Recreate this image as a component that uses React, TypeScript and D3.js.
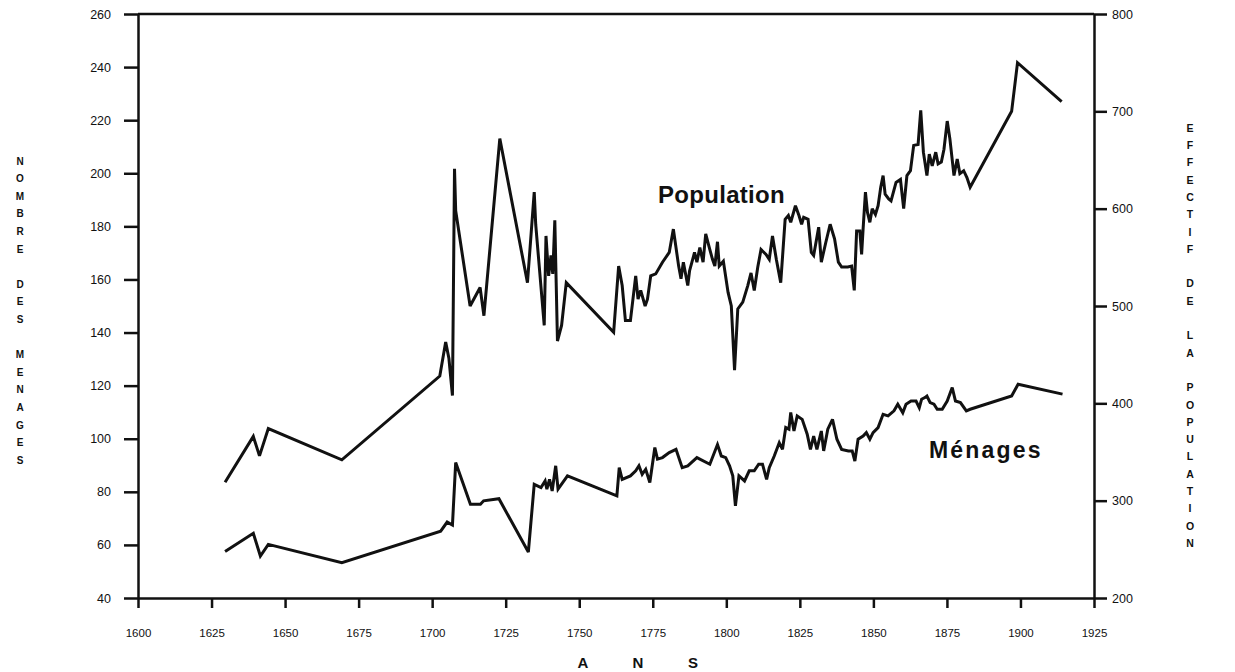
import React, { useEffect, useRef } from "react";
import * as d3 from "d3";

// population (right axis, "effectif de la population")
const popYears = [
  1629.6, 1639.2, 1641.3, 1644.3, 1669.3, 1702.6, 1704.6, 1705.7, 1706.9, 1707.6,
  1708.0, 1712.9, 1716.3, 1717.6, 1723.0, 1732.4, 1734.7, 1735.2, 1738.1, 1738.7,
  1739.6, 1740.4, 1741.0, 1741.7, 1742.6, 1744.0, 1745.6, 1761.7, 1763.4, 1764.6,
  1765.7, 1767.4, 1769.2, 1770.0, 1770.9, 1772.4, 1773.2, 1774.3, 1776.0, 1778.3,
  1780.6, 1782.0, 1783.8, 1784.6, 1785.4, 1786.9, 1787.5, 1789.2, 1790.0, 1791.0,
  1792.1, 1793.0, 1794.4, 1795.3, 1796.1, 1797.0, 1797.6, 1799.0, 1800.6, 1801.7,
  1802.8, 1803.9, 1805.6, 1807.3, 1808.4, 1809.5, 1810.7, 1811.8, 1813.5, 1814.6,
  1815.7, 1817.0, 1818.5, 1820.0, 1821.1, 1821.9, 1823.5, 1824.7, 1825.6, 1826.3,
  1827.8, 1828.9, 1829.7, 1831.4, 1832.3, 1833.8, 1835.3, 1836.8, 1838.1, 1839.2,
  1841.3, 1842.6, 1843.5, 1844.3, 1845.4, 1846.0, 1846.5, 1847.3, 1848.0, 1848.8,
  1849.6, 1850.7, 1851.6, 1852.5, 1853.3, 1854.0, 1855.2, 1856.0, 1857.7, 1859.2,
  1860.3, 1861.4, 1862.6, 1863.7, 1865.2, 1866.1, 1867.0, 1868.2, 1869.0, 1870.0,
  1871.2, 1872.0, 1873.1, 1874.0, 1875.1, 1876.0, 1877.4, 1878.5, 1879.4, 1880.7,
  1881.8, 1882.9, 1897.0, 1899.0, 1914.0,
];
const popValues = [
  319, 366, 346, 374, 342, 428, 463, 446, 408, 641,
  598, 500, 519, 490, 672, 524, 617, 584, 480, 572,
  531, 552, 533, 588, 464, 480, 524, 473, 541, 521,
  485, 485, 531, 507, 516, 500, 507, 531, 533, 545,
  555, 579, 541, 528, 545, 521, 536, 555, 545, 560,
  545, 574, 558, 548, 541, 566, 541, 546, 514, 500,
  434, 497, 504, 521, 534, 516, 540, 558, 553, 548,
  572, 548, 524, 589, 593, 586, 603, 593, 584, 591,
  589, 555, 552, 581, 545, 565, 584, 569, 545, 540,
  540, 541, 516, 577, 577, 553, 579, 617, 596, 586,
  600, 594, 603, 622, 634, 615, 610, 608, 627, 630,
  600, 634, 639, 665, 666, 701, 658, 634, 656, 644,
  658, 646, 648, 661, 690, 672, 634, 651, 636, 639,
  632, 622, 700, 750, 710,
];

// ménages (left axis, "nombre des ménages")
const menYears = [
  1629.6, 1639.2, 1641.6, 1644.3, 1669.3, 1702.9, 1705.1, 1706.9, 1708.0, 1713.0,
  1716.4, 1717.5, 1722.7, 1732.7, 1734.7, 1737.0, 1738.4, 1739.0, 1739.9, 1740.8,
  1742.0, 1742.8, 1746.0, 1762.8, 1763.6, 1764.6, 1767.4, 1769.2, 1770.3, 1771.4,
  1772.6, 1774.0, 1775.7, 1776.6, 1778.3, 1780.6, 1782.9, 1785.0, 1786.9, 1790.0,
  1794.4, 1797.0, 1798.3, 1799.8, 1801.1, 1802.2, 1803.1, 1804.3, 1806.2, 1807.8,
  1809.5, 1811.0, 1812.3, 1813.7, 1814.6, 1816.3, 1818.0, 1819.1, 1820.2, 1821.3,
  1821.9, 1823.0, 1824.1, 1825.8, 1827.5, 1828.6, 1829.7, 1830.8, 1832.3, 1833.1,
  1834.5, 1836.1, 1837.6, 1839.2, 1841.5, 1842.8, 1843.7, 1844.8, 1846.5, 1847.6,
  1848.8, 1849.9, 1851.6, 1853.3, 1855.0, 1857.0, 1858.3, 1860.0, 1861.1, 1862.8,
  1864.5, 1865.6, 1866.4, 1867.5, 1868.2, 1869.3, 1870.6, 1871.7, 1873.4, 1875.1,
  1876.8, 1877.9, 1879.6, 1881.6, 1882.9, 1897.0, 1899.2, 1914.3,
];
const menValues = [
  57.5, 64.4, 55.8, 60.2, 53.3, 65.2, 68.6, 67.5, 91.0, 75.3,
  75.3, 76.6, 77.4, 57.3, 82.8, 81.6, 84.1, 81.0, 84.7, 80.3,
  89.8, 81.0, 86.0, 78.5, 89.1, 84.7, 86.0, 87.9, 89.8, 86.6,
  88.5, 83.5, 96.7, 92.3, 92.9, 94.8, 96.0, 89.1, 89.8, 92.9,
  90.4, 97.8, 93.5, 92.9, 89.8, 86.0, 74.7, 86.0, 84.1, 87.9,
  87.9, 90.4, 90.4, 84.7, 89.1, 93.5, 98.5, 96.0, 104.2, 103.6,
  109.9, 102.9, 108.6, 107.3, 101.7, 96.0, 101.0, 96.0, 102.9, 95.4,
  103.6, 107.3, 99.8, 96.0, 95.4, 95.4, 91.6, 99.8, 101.0, 102.3,
  99.8, 102.3, 104.2, 109.2, 108.6, 110.5, 113.0, 109.8, 113.0, 114.2,
  114.2, 111.7, 114.9, 115.5, 116.1, 113.6, 113.0, 111.1, 111.1, 114.2,
  119.3, 114.2, 113.6, 110.5, 111.1, 116.1, 120.5, 116.8,
];

const xTicks = d3.range(1600, 1926, 25);
const leftTicks = d3.range(40, 261, 20);
const rightTicks = d3.range(200, 801, 100);

const leftTitle = "NOMBRE DES MENAGES";
const rightTitle = "EFFECTIF DE LA POPULATION";
const xTitle = ["A", "N", "S"];

function App() {
  const ref = useRef(null);

  useEffect(() => {
    const svg = d3.select(ref.current);
    svg.selectAll("*").remove();

    const left = 138, right = 1094, top = 14, bottom = 598;
    const x = d3.scaleLinear().domain([1600, 1925]).range([left, right]);
    const yL = d3.scaleLinear().domain([40, 260]).range([bottom, top]);
    const yR = d3.scaleLinear().domain([200, 800]).range([bottom, top]);

    const styleAxis = (g, size) => {
      g.selectAll("path").attr("stroke", "#111").attr("stroke-width", 2.5);
      g.selectAll("line").attr("stroke", "#111").attr("stroke-width", 2.5);
      g.selectAll("text").attr("fill", "#111").attr("font-size", size);
    };

    svg.append("g")
      .attr("transform", `translate(0,${bottom})`)
      .call(d3.axisBottom(x).tickValues(xTicks).tickFormat(d3.format("d")).tickSize(10).tickSizeOuter(0).tickPadding(21))
      .call(g => styleAxis(g, 11.5))
      .call(g => g.selectAll("text")
        .attr("font-family", "'Liberation Sans Narrow', 'Liberation Sans', sans-serif")
        .attr("font-stretch", "condensed"));

    svg.append("g")
      .attr("transform", `translate(${left},0)`)
      .call(d3.axisLeft(yL).tickValues(leftTicks).tickSize(14).tickSizeOuter(0).tickPadding(13))
      .call(g => styleAxis(g, 12.5))
      .call(g => g.selectAll("text").attr("font-family", "'Liberation Sans', sans-serif"));

    svg.append("g")
      .attr("transform", `translate(${right},0)`)
      .call(d3.axisRight(yR).tickValues(rightTicks).tickSize(13).tickSizeOuter(0).tickPadding(5))
      .call(g => styleAxis(g, 12.5))
      .call(g => g.selectAll("text").attr("font-family", "'Liberation Sans', sans-serif"));

    // top frame
    svg.append("line")
      .attr("x1", left).attr("x2", right).attr("y1", top).attr("y2", top)
      .attr("stroke", "#111").attr("stroke-width", 2.5);

    const popLine = d3.line().x(d => x(d[0])).y(d => yR(d[1]));
    const menLine = d3.line().x(d => x(d[0])).y(d => yL(d[1]));

    svg.append("path")
      .datum(d3.zip(popYears, popValues))
      .attr("d", popLine)
      .attr("fill", "none").attr("stroke", "#111").attr("stroke-width", 3)
      .attr("stroke-linejoin", "miter").attr("stroke-miterlimit", 3);

    svg.append("path")
      .datum(d3.zip(menYears, menValues))
      .attr("d", menLine)
      .attr("fill", "none").attr("stroke", "#111").attr("stroke-width", 3)
      .attr("stroke-linejoin", "miter").attr("stroke-miterlimit", 3);

    const labelFont = "'Liberation Sans', Arial, sans-serif";
    svg.append("text").attr("x", 658).attr("y", 203)
      .attr("font-family", labelFont).attr("font-weight", "bold").attr("font-size", 24)
      .attr("letter-spacing", 0.3).attr("fill", "#111").text("Population");
    svg.append("text").attr("x", 929).attr("y", 458)
      .attr("font-family", labelFont).attr("font-weight", "bold").attr("font-size", 23)
      .attr("letter-spacing", 2.2).attr("fill", "#111").text("Ménages");

    // stacked vertical titles
    const stack = (str, cx, y0, step, size) => {
      str.split("").forEach((ch, i) => {
        if (ch === " ") return;
        svg.append("text").attr("x", cx).attr("y", y0 + i * step)
          .attr("text-anchor", "middle").attr("dominant-baseline", "middle")
          .attr("font-family", labelFont).attr("font-weight", "bold").attr("font-size", size)
          .attr("fill", "#111").text(ch);
      });
    };
    stack(leftTitle, 20, 162, 17.6, 10);
    stack(rightTitle, 1190, 129, 17.3, 10.5);

    xTitle.forEach((ch, i) => {
      svg.append("text").attr("x", 583 + i * 55).attr("y", 668)
        .attr("text-anchor", "middle")
        .attr("font-family", labelFont).attr("font-weight", "bold").attr("font-size", 15)
        .attr("fill", "#111").text(ch);
    });
  }, []);

  return (
    <svg ref={ref} width={1235} height={672}
      style={{ position: "absolute", left: 0, top: 0, background: "#fff" }} />
  );
}

export default App;
